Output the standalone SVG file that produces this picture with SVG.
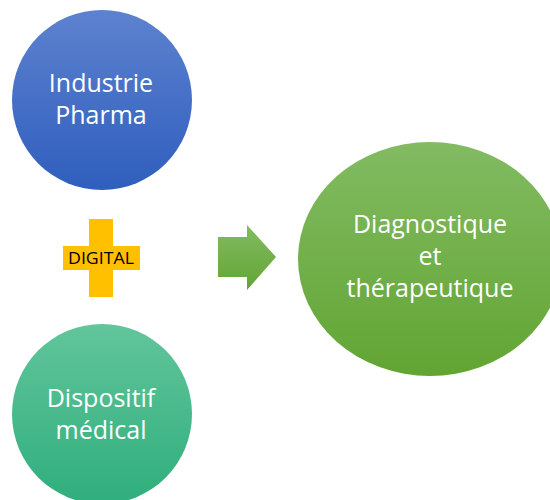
<svg xmlns="http://www.w3.org/2000/svg" width="550" height="500" viewBox="0 0 550 500">
<defs>
<linearGradient id="gBlue" x1="0" y1="0" x2="0" y2="1"><stop offset="0" stop-color="#5d82cf"/><stop offset="1" stop-color="#2f5ebd"/></linearGradient>
<linearGradient id="gTeal" x1="0" y1="0" x2="0" y2="1"><stop offset="0" stop-color="#62c59c"/><stop offset="1" stop-color="#2fae7c"/></linearGradient>
<linearGradient id="gGreen" x1="0" y1="0" x2="0" y2="1"><stop offset="0" stop-color="#82bb62"/><stop offset="1" stop-color="#62a533"/></linearGradient>
<style>
.lbl{font-family:"Open Sans","Liberation Sans",sans-serif;fill:#ffffff;text-anchor:middle;font-size:25px}
.dig{font-family:"Open Sans","Liberation Sans",sans-serif;fill:#000000;text-anchor:middle;font-size:16px}
</style>
</defs>
<rect width="550" height="500" fill="#ffffff"/>
<g id="pharma">
<circle cx="102" cy="100" r="90" fill="url(#gBlue)"/>
<text class="lbl" x="101" y="92">Industrie</text>
<text class="lbl" x="101" y="124">Pharma</text>
</g>
<g id="digital">
<rect x="89" y="219" width="24" height="78" fill="#ffc000"/>
<rect x="63" y="246" width="77" height="24" fill="#ffc000"/>
<text class="dig" x="101" y="264" textLength="66" lengthAdjust="spacingAndGlyphs">DIGITAL</text>
</g>
<g id="dispositif">
<circle cx="102" cy="414" r="90" fill="url(#gTeal)"/>
<text class="lbl" x="101" y="407">Dispositif</text>
<text class="lbl" x="101" y="439">médical</text>
</g>
<g id="connectors">
<path d="M218,237 H247 V225 L276,257 L247,290 V277 H218 Z" fill="url(#gGreen)"/>
</g>
<g id="diagnostique">
<ellipse cx="430" cy="259" rx="132" ry="117" fill="url(#gGreen)"/>
<text class="lbl" x="430" y="233">Diagnostique</text>
<text class="lbl" x="430" y="265">et</text>
<text class="lbl" x="430" y="297">thérapeutique</text>
</g>
</svg>
